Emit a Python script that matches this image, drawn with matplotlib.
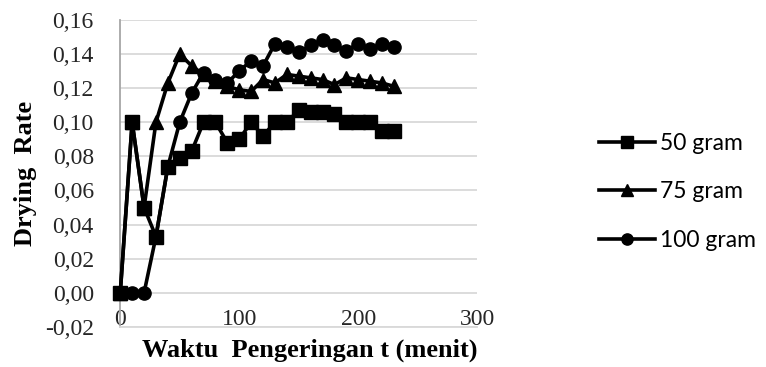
import matplotlib
matplotlib.use("Agg")
import matplotlib.pyplot as plt

# waktu pengeringan (menit)
t = [0, 10, 20, 30, 40, 50, 60, 70, 80, 90, 100, 110, 120,
     130, 140, 150, 160, 170, 180, 190, 200, 210, 220, 230]

rate_50 = [0.0, 0.10, 0.05, 0.033, 0.074, 0.079, 0.083, 0.10, 0.10, 0.088, 0.090, 0.10,
           0.092, 0.10, 0.10, 0.107, 0.106, 0.106, 0.105, 0.10, 0.10, 0.10, 0.095, 0.095]
rate_75 = [0.0, 0.10, 0.05, 0.10, 0.123, 0.140, 0.133, 0.128, 0.124, 0.121, 0.119, 0.118,
           0.125, 0.123, 0.128, 0.127, 0.126, 0.125, 0.122, 0.126, 0.125, 0.124, 0.123, 0.121]
rate_100 = [0.0, 0.0, 0.0, 0.033, 0.074, 0.10, 0.117, 0.129, 0.125, 0.123, 0.130, 0.136,
            0.133, 0.146, 0.144, 0.141, 0.145, 0.148, 0.145, 0.142, 0.146, 0.143, 0.146, 0.144]

labels = ['50 gram', '75 gram', '100 gram']
yticks = [-0.02, 0.0, 0.02, 0.04, 0.06, 0.08, 0.10, 0.12, 0.14, 0.16]
xticks = [0, 100, 200, 300]

fig = plt.figure(figsize=(7.66, 3.67), dpi=100)
ax = fig.add_axes([0.157, 0.109, 0.466, 0.837])

ax.plot(t, rate_50, '-s', color='black', lw=2.6, ms=10, label=labels[0], clip_on=False, zorder=3)
ax.plot(t, rate_75, '-^', color='black', lw=2.6, ms=9.5, label=labels[1], clip_on=False, zorder=3)
ax.plot(t, rate_100, '-o', color='black', lw=2.6, ms=9.5, label=labels[2], clip_on=False, zorder=3)

ax.set_xlim(0, 300)
ax.set_ylim(-0.02, 0.16)
ax.set_xticks(xticks)
ax.set_yticks(yticks)
ax.set_yticklabels([f'{v:.2f}'.replace('.', ',') for v in yticks])
ax.grid(axis='y', color='#d9d9d9', lw=1.3)
ax.set_axisbelow(True)

for s in ['top', 'right']:
    ax.spines[s].set_visible(False)
ax.spines['left'].set_color('#a6a6a6')
ax.spines['bottom'].set_color('#d9d9d9')
ax.spines['left'].set_linewidth(1.3)
ax.spines['bottom'].set_linewidth(1.3)

serif = ['Liberation Serif', 'DejaVu Serif']
ax.tick_params(length=0, labelsize=17, labelcolor='#262626')
ax.tick_params(axis='x', pad=-13)
ax.tick_params(axis='y', pad=19)
for lbl in ax.get_xticklabels() + ax.get_yticklabels():
    lbl.set_family(serif)

ax.set_xlabel('Waktu  Pengeringan t (menit)', family=serif, fontsize=19, fontweight='bold')
ax.xaxis.set_label_coords(0.53, -0.038)
ax.set_ylabel('Drying  Rate', family=serif, fontsize=19, fontweight='bold', labelpad=6)

leg = fig.legend(loc='center left', bbox_to_anchor=(0.755, 0.478), frameon=False,
                 prop={'family': 'Lato', 'size': 16.5}, handlelength=2.45, labelspacing=1.2,
                 markerscale=0.85, handletextpad=0.2)

fig.savefig('out.png', dpi=100)
